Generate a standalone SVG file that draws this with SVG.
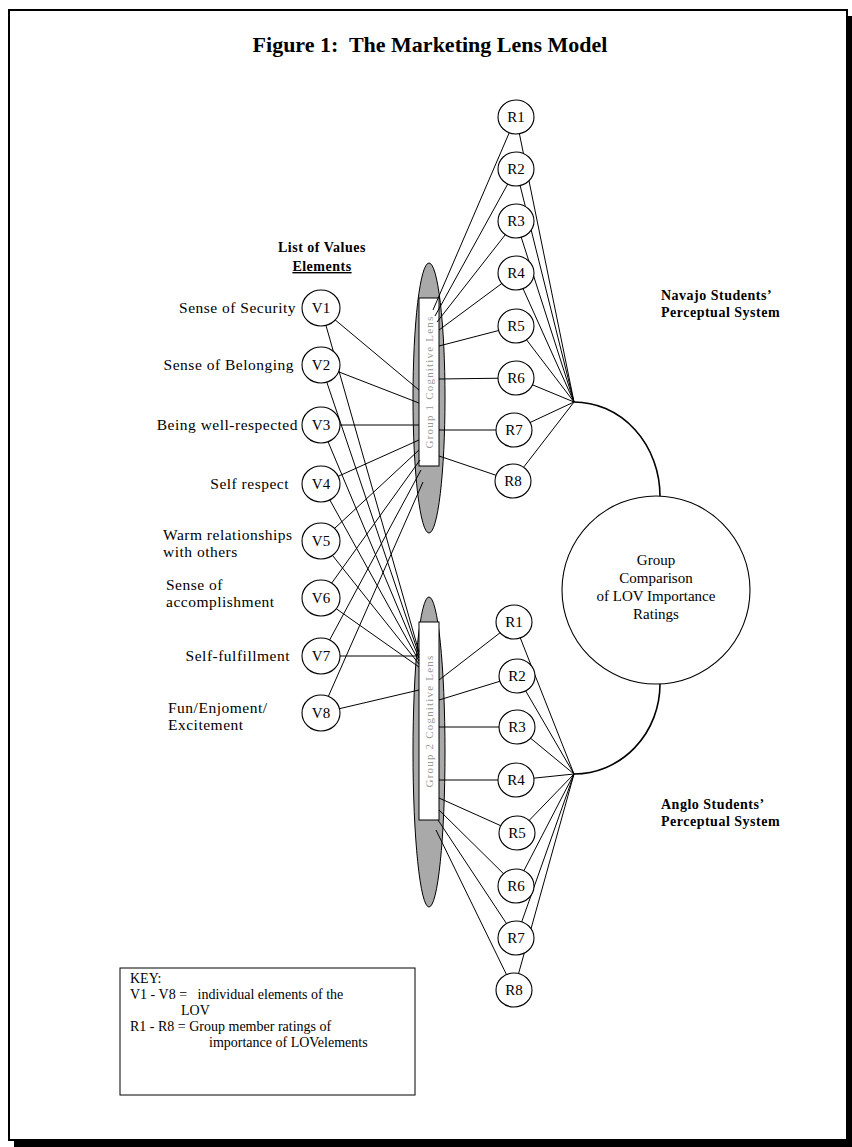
<svg xmlns="http://www.w3.org/2000/svg" width="852" height="1147" viewBox="0 0 852 1147">
<style>
.frame{fill:none;stroke:#000;stroke-width:2}
.c{fill:#fff;stroke:#000;stroke-width:1.1}
.ln{stroke:#000;stroke-width:1;fill:none}
.arc{stroke:#000;stroke-width:1.6;fill:none}
.lens{fill:#a9a9a9;stroke:#000;stroke-width:1}
.lr{fill:#fff;stroke:#000;stroke-width:1}
.lt{font-family:"Liberation Serif",serif;font-size:11px;fill:#999;letter-spacing:1.2px;text-anchor:middle}
.nl{font-family:"Liberation Serif",serif;font-size:15px;text-anchor:middle}
.lab{font-family:"Liberation Serif",serif;font-size:15.5px;letter-spacing:0.5px}
.r{text-anchor:end}
.cl{font-family:"Liberation Serif",serif;font-size:15px;text-anchor:middle}
.b{font-family:"Liberation Serif",serif;font-weight:bold;font-size:14px;letter-spacing:0.5px}
.k{font-family:"Liberation Serif",serif;font-size:14px}
</style>
<g id="frame">
<rect class="frame" x="9" y="10" width="838" height="1130"/>
<rect x="14" y="1139" width="838" height="8" fill="#000"/>
<rect x="847" y="16" width="5" height="1131" fill="#000"/>
</g>
<text x="430" y="52" font-family="Liberation Serif, serif" font-weight="bold" font-size="22" text-anchor="middle" xml:space="preserve">Figure 1:  The Marketing Lens Model</text>

<g id="lens1">
<ellipse class="lens" cx="429" cy="398" rx="16" ry="135"/>
<rect class="lr" x="419" y="298" width="20" height="168"/>
<text class="lt" transform="translate(433,382) rotate(-90)">Group 1  Cognitive Lens</text>
</g>
<g id="lens2">
<ellipse class="lens" cx="429" cy="752" rx="16" ry="155"/>
<rect class="lr" x="419" y="622" width="20" height="198"/>
<text class="lt" transform="translate(433,721) rotate(-90)">Group 2  Cognitive Lens</text>
</g>

<g id="connectors">
<path class="ln" d="M516,117L574,402M516,169L574,402M516,221L574,402M516,273L574,402M516,326L574,402M516,378L574,402M514,430L574,402M513,481L574,402"/>
<path class="ln" d="M516,117L433,310M516,169L435,316M516,221L437,322M516,273L439,330M516,326L439,346M516,378L439,379M514,430L439,430M513,481L439,456"/>
<path class="ln" d="M514,622L574,774M517,676L574,774M517,727L574,774M516,780L574,774M517,833L574,774M516,886L574,774M516,938L574,774M514,990L574,774"/>
<path class="ln" d="M514,622L439,680M517,676L439,700M517,727L439,727M516,780L439,780M517,833L439,798M516,886L439,810M516,938L438,820M514,990L436,830"/>
<path class="ln" d="M321,308L419,390M321,365L419,403M321,425L419,425M321,484L419,440M321,541L419,450M321,598L420,460M321,656L421,470M321,713L423,482"/>
<path class="ln" d="M321,308L419,652M321,365L419,655M321,425L419,658M321,484L419,661M321,541L419,664M321,598L419,667M321,656L419,656M321,713L419,690"/>
<path class="arc" d="M574,402A86,94 0 0 1 660,496"/>
<path class="arc" d="M574,774A86,90 0 0 0 660,684"/>
</g>

<g id="R1a"><ellipse class="c" cx="516" cy="117" rx="18" ry="17"/><text class="nl" x="516" y="122">R1</text></g>
<g id="R2a"><ellipse class="c" cx="516" cy="169" rx="18" ry="17"/><text class="nl" x="516" y="174">R2</text></g>
<g id="R3a"><ellipse class="c" cx="516" cy="221" rx="18" ry="17"/><text class="nl" x="516" y="226">R3</text></g>
<g id="R4a"><ellipse class="c" cx="516" cy="273" rx="18" ry="17" stroke-width="2"/><text class="nl" x="516" y="278">R4</text></g>
<g id="R5a"><ellipse class="c" cx="516" cy="326" rx="18" ry="17"/><text class="nl" x="516" y="331">R5</text></g>
<g id="R6a"><ellipse class="c" cx="516" cy="378" rx="18" ry="17"/><text class="nl" x="516" y="383">R6</text></g>
<g id="R7a"><ellipse class="c" cx="514" cy="430" rx="18" ry="17"/><text class="nl" x="514" y="435">R7</text></g>
<g id="R8a"><ellipse class="c" cx="513" cy="481" rx="18" ry="17"/><text class="nl" x="513" y="486">R8</text></g>

<g id="R1b"><ellipse class="c" cx="514" cy="622" rx="18" ry="17"/><text class="nl" x="514" y="627">R1</text></g>
<g id="R2b"><ellipse class="c" cx="517" cy="676" rx="18" ry="17"/><text class="nl" x="517" y="681">R2</text></g>
<g id="R3b"><ellipse class="c" cx="517" cy="727" rx="18" ry="17"/><text class="nl" x="517" y="732">R3</text></g>
<g id="R4b"><ellipse class="c" cx="516" cy="780" rx="18" ry="17"/><text class="nl" x="516" y="785">R4</text></g>
<g id="R5b"><ellipse class="c" cx="517" cy="833" rx="18" ry="17"/><text class="nl" x="517" y="838">R5</text></g>
<g id="R6b"><ellipse class="c" cx="516" cy="886" rx="18" ry="17"/><text class="nl" x="516" y="891">R6</text></g>
<g id="R7b"><ellipse class="c" cx="516" cy="938" rx="18" ry="17"/><text class="nl" x="516" y="943">R7</text></g>
<g id="R8b"><ellipse class="c" cx="514" cy="990" rx="18" ry="17"/><text class="nl" x="514" y="995">R8</text></g>

<g id="V1"><ellipse class="c" cx="321" cy="308" rx="19" ry="18"/><text class="nl" x="321" y="313">V1</text><text class="lab r" x="296" y="313">Sense of Security</text></g>
<g id="V2"><ellipse class="c" cx="321" cy="365" rx="19" ry="18"/><text class="nl" x="321" y="370">V2</text><text class="lab r" x="294" y="370">Sense of Belonging</text></g>
<g id="V3"><ellipse class="c" cx="321" cy="425" rx="19" ry="18"/><text class="nl" x="321" y="430">V3</text><text class="lab r" x="298" y="430">Being well-respected</text></g>
<g id="V4"><ellipse class="c" cx="321" cy="484" rx="19" ry="18"/><text class="nl" x="321" y="489">V4</text><text class="lab r" x="289" y="489">Self respect</text></g>
<g id="V5"><ellipse class="c" cx="321" cy="541" rx="19" ry="18"/><text class="nl" x="321" y="546">V5</text><text class="lab" x="163" y="540">Warm relationships</text><text class="lab" x="163" y="557">with others</text></g>
<g id="V6"><ellipse class="c" cx="321" cy="598" rx="19" ry="18"/><text class="nl" x="321" y="603">V6</text><text class="lab" x="166" y="590">Sense of</text><text class="lab" x="166" y="607">accomplishment</text></g>
<g id="V7"><ellipse class="c" cx="321" cy="656" rx="19" ry="18"/><text class="nl" x="321" y="661">V7</text><text class="lab r" x="290" y="661">Self-fulfillment</text></g>
<g id="V8"><ellipse class="c" cx="321" cy="713" rx="19" ry="18"/><text class="nl" x="321" y="718">V8</text><text class="lab" x="168" y="713">Fun/Enjoment/</text><text class="lab" x="168" y="730">Excitement</text></g>

<g id="lov-title">
<text class="b" x="322" y="252" text-anchor="middle">List of Values</text>
<text class="b" x="322" y="271" text-anchor="middle" text-decoration="underline">Elements</text>
</g>
<g id="navajo">
<text class="b" x="661" y="300">Navajo Students’</text>
<text class="b" x="661" y="317">Perceptual System</text>
</g>
<g id="anglo">
<text class="b" x="661" y="809">Anglo Students’</text>
<text class="b" x="661" y="826">Perceptual System</text>
</g>

<g id="comparison">
<circle class="c" cx="656" cy="590" r="94"/>
<text class="cl" x="656" y="565">Group</text>
<text class="cl" x="656" y="583">Comparison</text>
<text class="cl" x="656" y="601">of LOV Importance</text>
<text class="cl" x="656" y="619">Ratings</text>
</g>

<g id="key">
<rect x="120" y="968" width="295" height="127" fill="#fff" stroke="#000" stroke-width="1"/>
<text class="k" x="130" y="983">KEY:</text>
<text class="k" x="130" y="999" xml:space="preserve">V1 - V8 =   individual elements of the</text>
<text class="k" x="181" y="1015">LOV</text>
<text class="k" x="130" y="1031">R1 - R8 = Group member ratings of</text>
<text class="k" x="209" y="1047">importance of LOVelements</text>
</g>
</svg>
